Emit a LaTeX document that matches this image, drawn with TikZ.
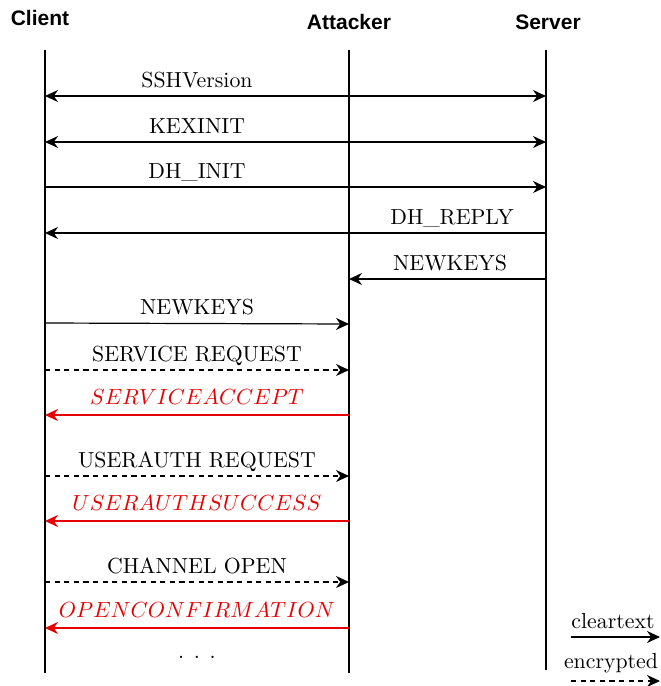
\documentclass[tikz,border=0pt]{standalone}
\usepackage{fontspec}
\newfontfamily\headfont{Liberation Sans}
\usetikzlibrary{arrows.meta,positioning,calc}
\definecolor{attackred}{HTML}{E60000}

\begin{document}
\begin{tikzpicture}[
    x=0.5pt, y=-0.5pt,
    every node/.style={font=\fontsize{10.9}{13}\selectfont},
    actor/.style={font=\headfont\bfseries\fontsize{10.5}{12}\selectfont},
    lbl/.style={anchor=base, inner sep=0pt},
    forged/.style={lbl, text=attackred, font=\fontsize{10.7}{12}\selectfont},
    lifeline/.style={line width=0.6pt},
    clear/.style={line width=0.6pt, -{Stealth[length=6.5pt,width=6pt]}},
    both/.style={clear, {Stealth[length=6.5pt,width=6pt]}-{Stealth[length=6.5pt,width=6pt]}},
    crypt/.style={clear, dash pattern=on 2.6pt off 2.2pt},
    fake/.style={clear, draw=attackred},
]
\useasboundingbox (0,0) rectangle (660,686);

% Participants
\node[actor] (client)   at (40,18)  {Client};
\node[actor] (attacker) at (349,22) {Attacker};
\node[actor] (server)   at (548,22) {Server};

% Lifelines
\coordinate (ctop) at (45,50);  \coordinate (cbot) at (45,673);
\coordinate (atop) at (349,50); \coordinate (abot) at (349,673);
\coordinate (stop) at (546,50); \coordinate (sbot) at (546,670);
\draw[lifeline] (ctop) -- (cbot);
\draw[lifeline] (atop) -- (abot);
\draw[lifeline] (stop) -- (sbot);

% Handshake in clear
\draw[both] (ctop |- 0,96) -- (stop |- 0,96);
\node[lbl] (ver) at (197,87) {SSHVersion};
\draw[both] (ctop |- 0,142) -- (stop |- 0,142);
\node[lbl] (kex) at (197,133) {KEXINIT};
\draw[clear] (ctop |- 0,187) -- (stop |- 0,187);
\node[lbl] (dhinit) at (197,178) {DH\_INIT};
\draw[clear] (stop |- 0,233) -- (ctop |- 0,233);
\node[lbl] (dhreply) at (452,224) {DH\_REPLY};
\draw[clear] (stop |- 0,279) -- (atop |- 0,279);
\node[lbl] (nkserver) at (450,270) {NEWKEYS};
\draw[clear] (ctop |- 0,323) -- (atop |- 0,324);
\node[lbl] (nkclient) at (197,314) {NEWKEYS};

% Encrypted part, answered by the attacker
\draw[crypt] (ctop |- 0,370) -- (atop |- 0,370);
\node[lbl] (srvreq) at (197,361) {SERVICE REQUEST};
\draw[fake] (atop |- 0,415) -- (ctop |- 0,415);
\node[forged] (srvacc) at (197,404) {$SERVICEACCEPT$};
\draw[crypt] (ctop |- 0,476) -- (atop |- 0,476);
\node[lbl] (authreq) at (197,467) {USERAUTH REQUEST};
\draw[fake] (atop |- 0,521) -- (ctop |- 0,521);
\node[forged] (authok) at (197,510) {$USERAUTHSUCCESS$};
\draw[crypt] (ctop |- 0,582) -- (atop |- 0,582);
\node[lbl] (chopen) at (197,573) {CHANNEL OPEN};
\draw[fake] (atop |- 0,628) -- (ctop |- 0,628);
\node[forged] (chconf) at (197,617) {$OPENCONFIRMATION$};
\node[lbl] (more) at (197,658) {. . .};

% Legend
\coordinate (legA) at (571,637); \coordinate (legB) at (660,637);
\coordinate (legC) at (571,681); \coordinate (legD) at (660,681);
\draw[clear] (legA) -- (legB);
\node[lbl] (cleartext) at (613,628) {cleartext};
\draw[crypt] (legC) -- (legD);
\node[lbl] (encrypted) at (611,668) {encrypted};
\end{tikzpicture}
\end{document}
